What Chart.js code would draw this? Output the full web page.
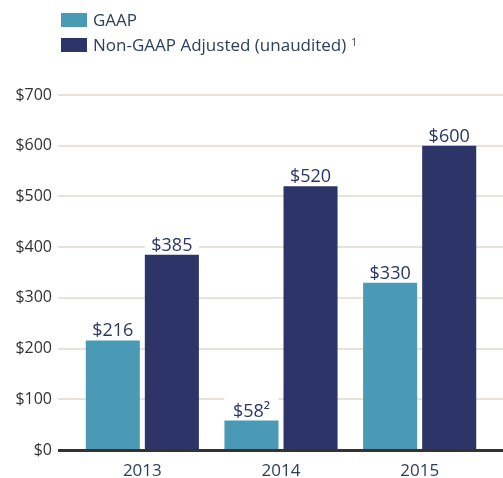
<!DOCTYPE html>
<html>
<head>
<meta charset="utf-8">
<script src="https://cdn.jsdelivr.net/npm/chart.js@4"></script>
<style>
    html, body { margin: 0; padding: 0; background: #fff; }
    #wrap { position: relative; width: 503px; height: 478px; }
    #legend { position: absolute; left: 61px; top: 7px; font-family: "Open Sans", sans-serif; font-size: 17px; color: #2d3d5c; }
    .item { display: flex; align-items: center; height: 25px; }
    .swatch { width: 26px; height: 14px; margin-right: 6px; }
    .item sup { font-size: 10px; margin-left: 5px; position: relative; top: -3px; }
</style>
</head>
<body>
<div id="wrap">
    <canvas id="chart" width="503" height="478"></canvas>
    <div id="legend">
        <div class="item"><span class="swatch" style="background:#4a9ab6"></span>GAAP</div>
        <div class="item"><span class="swatch" style="background:#2c3468"></span>Non-GAAP Adjusted (unaudited)<sup>1</sup></div>
    </div>
</div>
<script>
// --- Data ---
const years = ['2013', '2014', '2015'];
const gaapValues = [216, 58, 330];
const nonGaapValues = [385, 520, 600];
const gaapLabels = ['$216', '$58²', '$330'];
const nonGaapLabels = ['$385', '$520', '$600'];
const yTicks = [0, 100, 200, 300, 400, 500, 600, 700];

const FONT = '"Open Sans", sans-serif';

// Horizontal grid lines running past the plot area, plus the dark base line
const gridPlugin = {
    id: 'fullGrid',
    beforeDatasetsDraw(chart) {
        const ctx = chart.ctx;
        const y = chart.scales.y;
        ctx.save();
        ctx.strokeStyle = '#e7e2da';
        ctx.lineWidth = 2;
        yTicks.forEach(v => {
            if (v === 0) return;
            const py = Math.round(y.getPixelForValue(v));
            ctx.beginPath();
            ctx.moveTo(58, py);
            ctx.lineTo(chart.width, py);
            ctx.stroke();
        });
        ctx.restore();
    },
    afterDatasetsDraw(chart) {
        const ctx = chart.ctx;
        const y = chart.scales.y;
        const py = y.getPixelForValue(0);
        ctx.save();
        ctx.fillStyle = '#333333';
        ctx.fillRect(58, py - 1, chart.width - 58, 3);

        // value labels on a white patch that cuts the grid lines
        ctx.font = '18px ' + FONT;
        ctx.textAlign = 'center';
        ctx.textBaseline = 'alphabetic';
        const labelSets = [gaapLabels, nonGaapLabels];
        chart.data.datasets.forEach((ds, i) => {
            chart.getDatasetMeta(i).data.forEach((bar, j) => {
                const text = labelSets[i][j];
                const base = bar.y - 4;
                ctx.fillStyle = '#ffffff';
                ctx.fillRect(bar.x - 27, base - 19, 54, 21);
                ctx.fillStyle = '#2c3468';
                ctx.fillText(text, bar.x, base);
            });
        });
        ctx.restore();
    }
};

new Chart(document.getElementById('chart'), {
    type: 'bar',
    data: {
        labels: years,
        datasets: [
            {
                label: 'GAAP',
                data: gaapValues,
                backgroundColor: '#4a9ab6',
                barPercentage: 0.915,
                categoryPercentage: 0.852
            },
            {
                label: 'Non-GAAP Adjusted (unaudited) ¹',
                data: nonGaapValues,
                backgroundColor: '#2c3468',
                barPercentage: 0.915,
                categoryPercentage: 0.852
            }
        ]
    },
    options: {
        responsive: false,
        animation: false,
        layout: { padding: { top: 95, right: 14, left: 0, bottom: 0 } },
        plugins: {
            legend: { display: false },
            tooltip: { enabled: false }
        },
        scales: {
            x: {
                grid: { display: false, drawTicks: false },
                border: { display: false },
                ticks: { color: '#2d3d5c', font: { family: FONT, size: 17 }, padding: 11 },
                afterFit(scale) { scale.height = 28; }
            },
            y: {
                min: 0,
                max: 700,
                grid: { display: false, drawTicks: false },
                border: { display: false },
                ticks: {
                    stepSize: 100,
                    color: '#333333',
                    padding: 21,
                    font: { family: FONT, size: 16 },
                    callback: v => '$' + v
                },
                afterFit(scale) {
                    scale.width = 73;
                    scale.paddingTop = 0;
                    scale.paddingBottom = 0;
                }
            }
        }
    },
    plugins: [gridPlugin]
});
</script>
</body>
</html>
